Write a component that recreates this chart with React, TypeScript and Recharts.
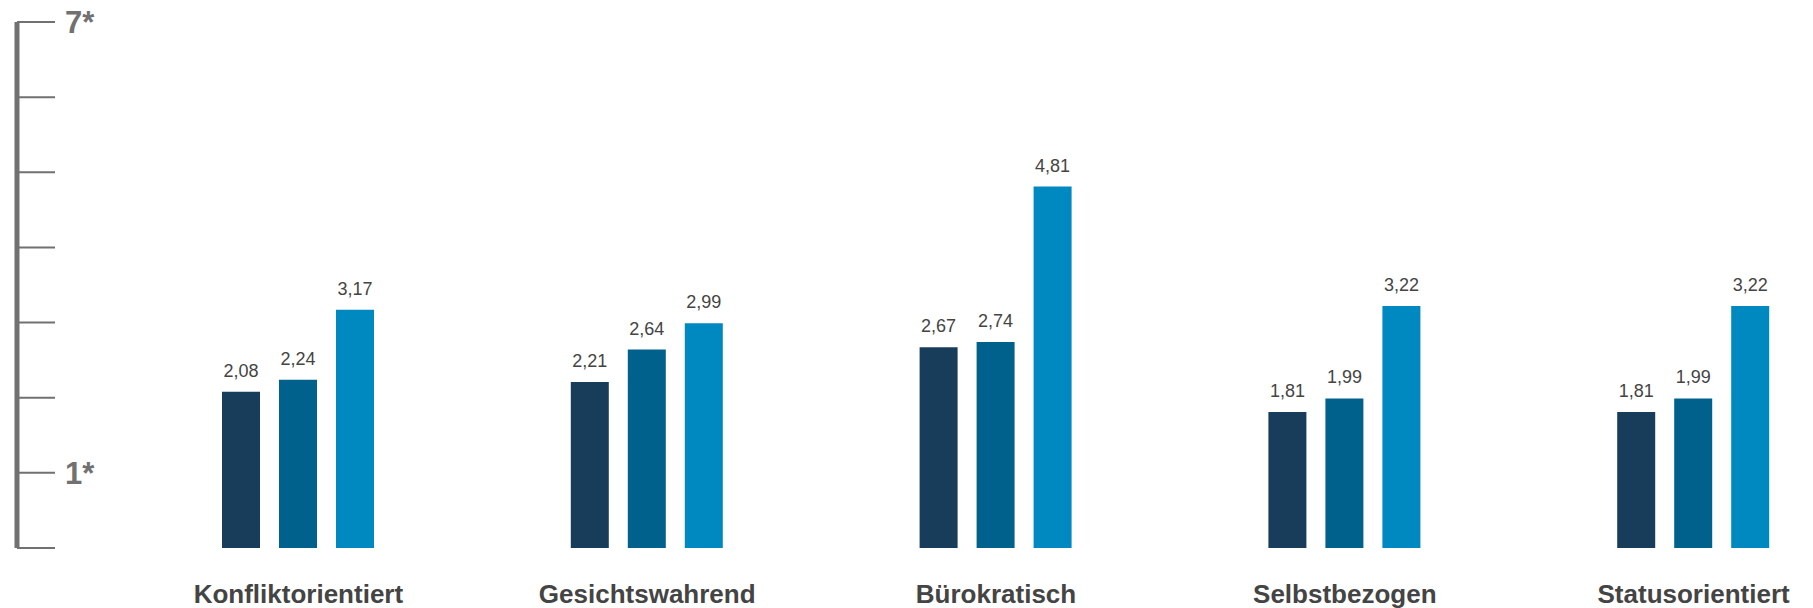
import React from "react"
import { BarChart, Bar, XAxis, YAxis, LabelList } from "recharts"

const categories = ["Konfliktorientiert", "Gesichtswahrend", "Bürokratisch", "Selbstbezogen", "Statusorientiert"]
const seriesA = [2.08, 2.21, 2.67, 1.81, 1.81]
const seriesB = [2.24, 2.64, 2.74, 1.99, 1.99]
const seriesC = [3.17, 2.99, 4.81, 3.22, 3.22]
const yTicks = [0, 1, 2, 3, 4, 5, 6, 7]

const data = categories.map((name, i) => ({ name, a: seriesA[i], b: seriesB[i], c: seriesC[i] }))

const font = "'Liberation Sans', Arial, Helvetica, sans-serif"
const fmt = (v: any) => Number(v).toFixed(2).replace(".", ",")
const labelStyle = { fill: "#444444", fontSize: 18, fontFamily: font }

export default function App() {
  // pull the chart up over the body margin so the top label has room
  return (
    <div style={{ width: 1805, height: 608, marginTop: -8, overflow: "hidden", fontFamily: font }}>
      <BarChart
        width={1900}
        height={608}
        data={data}
        barGap={19}
        margin={{ top: 22, right: 40, bottom: 0, left: 9 }}
      >
        <XAxis
          dataKey="name"
          axisLine={false}
          tickLine={false}
          tickSize={0}
          tickMargin={37}
          height={60}
          interval={0}
          padding={{ left: 107, right: 0 }}
          tick={{ fill: "#444444", fontSize: 26, fontWeight: 700, fontFamily: font }}
        />
        <YAxis
          domain={[0, 7]}
          ticks={yTicks}
          interval={0}
          mirror
          width={60}
          tickSize={38}
          tickMargin={10}
          axisLine={{ stroke: "#717171", strokeWidth: 5 }}
          tickLine={{ stroke: "#717171", strokeWidth: 2 }}
          tickFormatter={(v: number) => (v === 7 ? "7*" : v === 1 ? "1*" : "")}
          tick={{ fill: "#717171", fontSize: 31, fontWeight: 700, fontFamily: font }}
        />
        <Bar dataKey="a" fill="#183d5b" barSize={38} isAnimationActive={false}>
          <LabelList dataKey="a" position="top" offset={15} formatter={fmt} style={labelStyle} />
        </Bar>
        <Bar dataKey="b" fill="#00628c" barSize={38} isAnimationActive={false}>
          <LabelList dataKey="b" position="top" offset={15} formatter={fmt} style={labelStyle} />
        </Bar>
        <Bar dataKey="c" fill="#0088c0" barSize={38} isAnimationActive={false}>
          <LabelList dataKey="c" position="top" offset={15} formatter={fmt} style={labelStyle} />
        </Bar>
      </BarChart>
    </div>
  )
}
